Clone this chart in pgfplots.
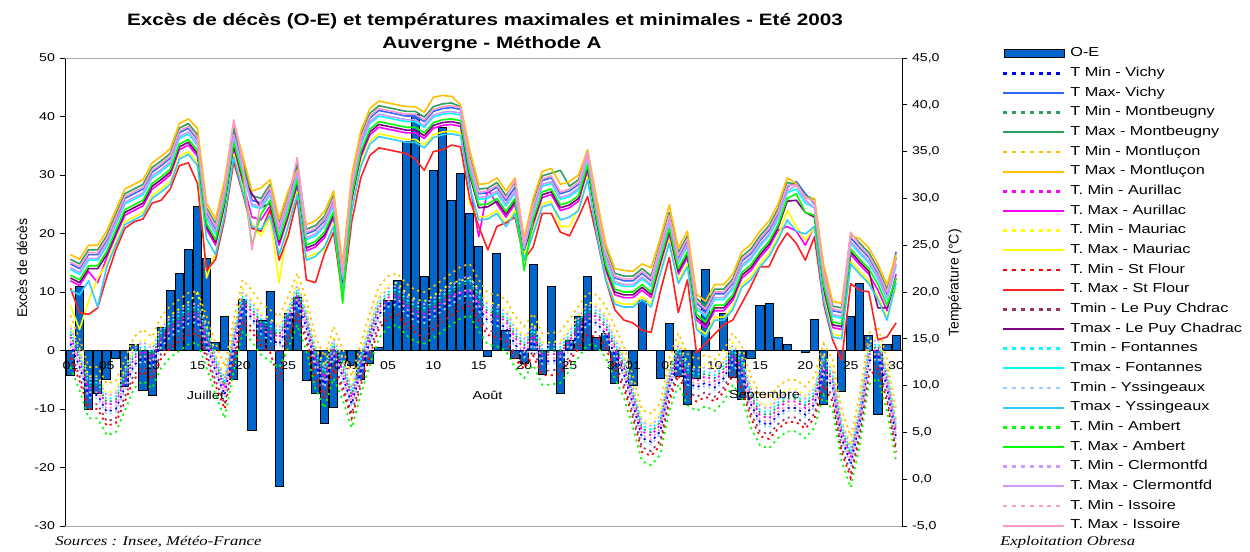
\documentclass[border=0pt]{standalone}
\usepackage{pgfplots}
\pgfplotsset{compat=1.18}
\usepackage{pgfplotstable}
\usepackage{fontspec}
\setmainfont{Liberation Sans}[FakeStretch=1.25]
\newfontfamily\plainsans{Liberation Sans}
\newfontfamily\srcfont{Liberation Serif}[FakeStretch=1.25]

\definecolor{oecol}{HTML}{0066CC}
\definecolor{vimin}{HTML}{0000FF}
\definecolor{vimax}{HTML}{3366FF}
\definecolor{mbcol}{HTML}{2E9E5E}
\definecolor{mlcol}{HTML}{FFC000}
\definecolor{aucol}{HTML}{FF00FF}
\definecolor{macol}{HTML}{FFFF00}
\definecolor{sfmin}{HTML}{FF0000}
\definecolor{sfmax}{HTML}{FF2020}
\definecolor{lpmin}{HTML}{993366}
\definecolor{lpmax}{HTML}{800080}
\definecolor{focol}{HTML}{00FFFF}
\definecolor{ysmin}{HTML}{99CCFF}
\definecolor{ysmax}{HTML}{33CCFF}
\definecolor{amcol}{HTML}{00FF00}
\definecolor{clcol}{HTML}{CC99FF}
\definecolor{iscol}{HTML}{FF99CC}

\pgfplotsset{
  tmin/.style={line width=1.3pt, dash pattern=on 1.6pt off 3pt, no markers,
    legend image code/.code={\draw[##1, line width=1.8pt, dash pattern=on 3pt off 3.6pt] (0pt,0pt) -- (45.75pt,0pt);}},
  tmax/.style={line width=1.2pt, solid, no markers, line join=round,
    legend image code/.code={\draw[##1, line width=1.5pt] (0pt,0pt) -- (45.75pt,0pt);}},
}

\pgfplotstableread{
d oe vin vix mbn mbx mln mlx aun aux man mzx sfn sfx lpn lpx fon fox ysn ysx amn amx cln clx isn isx
0 -4.3 14.5 23.0 15.5 23.5 17.5 24.0 15.2 21.2 16.5 18.6 13.0 20.4 13.5 21.5 15.8 22.4 14.2 20.2 12.0 21.8 16.2 22.6 14.8 23.2
1 11.0 12.0 22.5 13.0 23.0 15.0 23.5 12.7 20.7 14.0 16.0 10.5 17.8 11.0 21.0 13.3 21.9 11.7 19.7 9.5 21.3 13.7 22.1 12.3 22.7
2 -10.0 9.0 24.0 10.0 24.5 12.0 25.0 9.7 22.2 11.0 19.0 7.5 17.6 8.0 22.5 10.3 23.4 8.7 21.2 6.5 22.8 10.7 23.6 9.3 24.2
3 -7.3 9.0 24.0 10.0 24.5 12.0 25.0 9.7 21.0 11.0 21.5 7.5 18.3 8.0 22.5 10.3 23.4 8.7 18.4 6.5 22.8 10.7 23.6 9.3 24.2
4 -5.0 7.2 25.5 8.2 26.0 10.2 26.5 7.9 23.7 9.2 23.0 5.7 21.6 6.2 24.0 8.5 24.9 6.9 22.7 4.7 24.3 8.9 25.1 7.5 25.7
5 -1.3 7.5 27.8 8.5 28.3 10.5 28.8 8.2 26.0 9.5 25.3 6.0 24.5 6.5 26.3 8.8 27.2 7.2 25.0 5.0 26.6 9.2 27.4 7.8 28.0
6 -6.2 9.8 30.0 10.8 30.5 12.8 31.0 10.5 28.2 11.8 27.5 8.3 26.8 8.8 28.5 11.1 29.4 9.5 27.2 7.3 28.8 11.5 29.6 10.1 30.2
7 1.0 12.2 30.5 13.2 31.0 15.2 31.5 12.9 28.7 14.2 28.0 10.7 27.5 11.2 29.0 13.5 29.9 11.9 27.7 9.7 29.3 13.9 30.1 12.5 30.7
8 -6.8 13.0 31.0 14.0 31.5 16.0 32.0 13.7 29.2 15.0 28.5 11.5 27.8 12.0 29.5 14.3 30.4 12.7 28.2 10.5 29.8 14.7 30.6 13.3 31.2
9 -7.7 12.2 32.8 13.2 33.3 15.2 33.8 12.9 31.0 14.2 30.3 10.7 29.5 11.2 31.3 13.5 32.2 11.9 30.0 9.7 31.6 13.9 32.4 12.5 33.0
10 4.0 14.4 33.5 15.4 34.0 17.4 34.5 15.1 31.7 16.4 31.0 12.9 29.8 13.4 32.0 15.7 32.9 14.1 30.7 11.9 32.3 16.1 33.1 14.7 33.7
11 10.3 15.5 34.3 16.5 34.8 18.5 35.3 16.2 32.5 17.5 31.8 14.0 31.0 14.5 32.8 16.8 33.7 15.2 31.5 13.0 33.1 17.2 33.9 15.8 34.5
12 13.1 16.2 37.0 17.2 37.5 19.2 38.0 16.9 35.2 18.2 34.5 14.7 33.5 15.2 35.5 17.5 36.4 15.9 34.2 13.7 35.8 17.9 36.6 16.5 37.2
13 17.3 16.9 37.5 17.9 38.0 19.9 38.5 17.6 35.7 18.9 35.0 15.4 33.8 15.9 36.0 18.2 36.9 16.6 34.7 14.4 36.3 18.6 37.1 17.2 37.7
14 24.6 17.1 36.3 18.1 36.8 20.1 37.5 17.8 34.5 19.9 33.8 15.6 31.6 16.1 34.8 18.4 35.7 16.8 33.5 14.6 35.1 18.8 35.9 17.4 36.5
15 15.8 14.4 28.5 15.4 29.0 17.4 29.5 15.1 26.7 16.4 21.5 12.9 22.3 13.4 27.0 15.7 27.9 14.1 25.7 11.9 27.3 16.1 28.1 14.7 28.7
16 1.4 11.5 26.8 12.5 27.3 14.5 27.8 12.2 25.0 13.5 24.3 10.0 23.5 10.5 25.3 12.8 26.2 11.2 24.0 9.0 25.6 13.2 26.4 11.8 27.0
17 5.9 9.0 31.0 10.0 31.5 12.0 32.0 9.7 29.2 11.0 28.5 7.5 27.8 8.0 29.5 10.3 30.4 8.7 28.2 6.5 29.8 10.7 30.6 9.3 31.2
18 -5.0 14.1 37.2 15.1 37.7 17.1 38.2 14.8 35.4 16.1 34.7 12.6 33.9 13.1 35.7 15.4 36.6 13.8 34.4 11.6 36.0 15.8 36.8 14.4 38.4
19 8.7 18.3 33.5 19.3 34.0 21.3 34.5 19.0 31.7 20.3 31.0 16.8 30.5 17.3 32.0 19.6 32.9 18.0 30.7 15.8 32.3 20.0 33.1 18.6 33.7
20 -13.6 17.2 29.8 18.2 30.3 20.2 30.8 17.9 28.0 19.2 27.3 15.7 26.8 16.2 30.5 18.5 29.2 16.9 27.0 14.7 25.0 18.9 29.4 17.5 24.5
21 5.1 15.8 29.5 16.8 30.0 18.8 31.1 16.5 27.7 17.8 26.0 14.3 26.5 14.8 29.0 17.1 28.9 15.5 26.7 13.3 28.3 17.5 29.1 16.1 29.7
22 10.1 15.1 31.0 16.1 31.5 18.1 32.0 15.8 29.2 17.1 28.0 13.6 28.8 14.1 29.5 16.4 30.4 14.8 28.2 12.6 29.8 16.8 30.6 15.4 31.2
23 -23.3 14.4 26.8 15.4 27.3 17.4 27.8 15.1 25.0 16.4 21.0 10.5 23.4 13.4 25.3 15.7 26.2 14.1 24.0 11.9 25.6 16.1 26.4 14.7 27.0
24 6.4 16.5 29.8 17.5 30.3 19.5 30.8 17.2 28.0 18.5 27.3 15.0 26.0 15.5 28.3 17.8 29.2 16.2 27.0 14.0 28.6 18.2 29.4 16.8 30.0
25 9.1 19.0 33.2 20.0 33.7 22.0 33.0 19.7 31.4 21.0 30.7 17.5 30.0 18.0 31.7 20.3 32.6 18.7 30.4 16.5 32.0 20.7 32.8 19.3 34.4
26 -5.1 16.2 26.2 17.2 26.7 19.2 27.2 16.9 24.4 18.2 23.7 14.7 21.3 15.2 24.7 17.5 25.6 15.9 23.4 13.7 25.0 17.9 25.8 16.5 26.4
27 -7.3 12.2 26.6 13.2 27.1 15.2 27.6 12.9 24.8 14.2 24.1 10.7 21.0 11.2 25.1 13.5 26.0 11.9 23.8 9.7 25.4 13.9 26.2 12.5 26.8
28 -12.4 10.1 27.6 11.1 28.1 13.1 28.6 10.8 25.8 12.1 24.5 8.6 24.1 9.1 26.1 11.4 27.0 9.8 24.8 7.6 26.4 11.8 27.2 10.4 27.8
29 -9.8 13.3 29.8 14.3 30.3 16.3 30.8 14.0 28.0 15.3 27.3 11.8 26.4 12.3 28.3 14.6 29.2 13.0 27.0 10.8 28.6 15.0 29.4 13.6 30.0
30 -2.0 11.0 22.0 12.0 22.5 14.0 23.0 11.7 20.2 13.0 19.5 9.5 19.5 10.0 20.5 12.3 21.4 10.7 20.0 8.5 18.8 12.7 21.6 11.3 22.2
31 -2.6 8.0 31.5 9.0 32.0 11.0 32.5 8.7 29.7 10.0 29.0 6.5 27.5 7.0 30.0 9.3 30.9 7.7 28.7 5.5 30.3 9.7 31.1 8.3 31.7
32 -5.0 11.5 36.2 12.5 36.7 14.5 37.2 12.2 34.4 13.5 33.7 10.0 32.2 10.5 34.7 12.8 35.6 11.2 33.4 9.0 35.0 13.2 35.8 11.8 36.4
33 -2.2 14.7 38.6 15.7 39.1 17.7 39.6 15.4 36.8 16.7 36.1 13.2 34.6 13.7 37.1 16.0 38.0 14.4 35.8 12.2 37.4 16.4 38.2 15.0 38.8
34 0.6 17.6 39.4 18.6 39.9 20.6 40.4 18.3 37.6 19.6 36.9 16.1 35.4 16.6 37.9 18.9 38.8 17.3 36.6 15.1 38.2 19.3 39.0 17.9 39.6
35 8.5 18.7 39.2 19.7 39.7 21.7 40.2 19.4 37.4 20.7 36.7 17.2 35.2 17.7 37.7 20.0 38.6 18.4 36.4 16.2 38.0 20.4 38.8 19.0 39.4
36 12.0 19.0 39.0 20.0 39.5 22.0 40.0 19.7 37.2 21.0 36.5 17.5 35.0 18.0 37.5 20.3 38.4 18.7 36.2 16.5 37.8 20.7 38.6 19.3 39.2
37 35.8 17.9 38.8 18.9 39.3 20.9 39.8 18.6 37.0 19.9 36.3 16.4 34.8 16.9 37.3 19.2 38.2 17.6 36.0 15.4 37.6 19.6 38.4 18.2 39.0
38 40.3 17.2 38.8 18.2 39.3 20.2 39.8 17.9 37.0 19.2 36.3 15.7 34.2 16.2 37.3 18.5 38.2 16.9 36.0 14.7 37.6 18.9 38.4 17.5 39.0
39 12.6 17.0 38.2 18.0 38.7 20.0 39.2 17.7 36.4 19.0 35.7 15.0 33.0 16.0 36.7 18.3 37.6 16.7 35.4 14.5 37.0 18.7 37.8 17.3 38.4
40 30.8 17.6 39.3 18.6 39.8 20.6 40.8 18.3 37.5 19.6 36.8 16.1 35.0 16.6 37.8 18.9 38.7 17.3 36.5 15.1 38.1 19.3 38.9 17.9 39.5
41 38.2 18.3 39.6 19.3 40.1 21.3 41.0 19.0 37.8 20.3 37.1 16.8 35.2 17.3 38.1 19.6 39.0 18.0 36.8 15.8 38.4 20.0 39.2 18.6 39.8
42 25.7 19.0 39.7 20.0 40.2 22.0 40.9 19.7 37.9 21.0 37.2 17.5 35.7 18.0 38.2 20.3 39.1 18.7 36.9 16.5 38.5 20.7 39.3 19.3 39.9
43 30.2 19.7 39.5 20.7 39.8 22.7 40.0 19.9 37.7 21.2 37.0 18.2 35.5 18.7 38.0 21.0 38.9 19.4 36.7 17.2 38.3 21.4 39.1 20.0 39.7
44 23.5 20.0 34.0 21.0 34.5 23.0 35.2 20.2 31.5 21.5 29.5 18.5 30.0 19.0 32.5 21.3 33.4 19.7 31.2 17.5 32.8 21.7 33.6 20.3 34.2
45 17.8 18.3 30.5 19.3 31.0 21.3 31.5 19.0 25.9 20.3 28.0 16.8 27.0 17.3 29.0 19.6 29.9 18.0 27.7 15.8 29.3 20.0 30.1 18.6 30.7
46 -1.1 16.9 30.6 17.9 31.1 19.9 31.6 17.6 31.0 18.9 28.1 15.4 24.5 15.9 29.1 18.2 30.0 16.6 27.8 14.4 29.4 18.6 30.2 17.2 30.8
47 16.6 16.7 31.2 17.7 31.7 19.7 32.2 17.4 29.4 18.7 28.7 15.2 27.0 15.7 29.7 18.0 30.6 16.4 28.4 14.2 30.0 18.4 30.8 17.0 31.4
48 3.5 16.2 29.8 17.2 30.3 19.2 30.8 16.9 28.0 18.2 27.3 14.7 27.4 15.2 28.3 17.5 29.2 15.9 27.0 13.7 28.6 17.9 29.4 16.5 30.0
49 -1.3 14.4 31.2 15.4 31.7 17.4 32.2 15.1 29.4 16.4 28.7 12.9 28.0 13.4 29.7 15.7 30.6 14.1 28.4 11.9 30.0 16.1 30.8 14.7 32.0
50 -2.2 13.3 25.2 14.3 25.5 16.3 25.7 14.0 23.4 15.3 24.0 11.8 23.5 12.3 24.5 14.6 24.6 13.0 23.5 10.8 22.3 15.0 24.8 13.6 25.2
51 14.7 14.7 29.0 15.7 29.5 17.7 30.0 15.4 27.2 16.7 26.5 13.2 24.8 13.7 27.5 16.0 28.4 14.4 26.2 12.2 27.8 16.4 28.6 15.0 29.2
52 -4.1 12.6 31.9 13.6 32.4 15.6 32.9 13.3 30.1 14.6 29.4 11.1 28.4 11.6 30.4 13.9 31.3 12.3 29.1 10.1 30.7 14.3 31.5 12.9 32.1
53 11.0 12.6 32.2 13.6 32.7 15.6 33.2 13.3 30.4 14.6 29.7 11.1 28.4 11.6 30.7 13.9 31.6 12.3 29.4 10.1 31.0 14.3 31.8 12.9 32.4
54 -7.4 12.8 30.5 13.8 33.0 15.8 31.5 13.5 28.7 14.8 27.0 11.3 26.4 11.8 29.0 14.1 29.9 12.5 27.7 10.3 29.3 14.5 30.1 13.1 30.7
55 1.8 14.1 30.8 15.1 31.3 17.1 31.8 14.8 29.0 16.1 27.0 12.6 26.0 13.1 29.3 15.4 30.2 13.8 28.0 11.6 29.6 15.8 30.4 14.4 31.0
56 5.9 15.5 31.5 16.5 32.0 18.5 32.5 16.2 29.7 17.5 29.0 14.0 28.0 14.5 30.0 16.8 30.9 15.2 28.7 13.0 30.3 17.2 31.1 15.8 31.7
57 12.6 16.9 34.8 17.9 35.1 19.9 35.2 17.6 33.0 18.9 32.3 15.4 30.2 15.9 33.3 18.2 34.2 16.6 32.0 14.4 33.6 18.6 34.4 17.2 35.0
58 2.2 16.7 29.0 17.7 29.5 19.7 30.0 17.4 27.2 18.7 26.5 15.2 25.9 15.7 27.5 18.0 28.4 16.4 26.2 14.2 27.8 18.4 28.6 17.0 29.2
59 2.9 15.5 24.1 16.5 24.6 18.5 25.1 16.2 22.3 17.5 21.6 14.0 21.3 14.5 22.6 16.8 23.5 15.2 21.3 13.0 22.9 17.2 23.7 15.8 24.3
60 -5.7 13.3 21.5 14.3 22.0 16.3 22.5 14.0 19.7 15.3 19.0 11.8 18.1 12.3 20.0 14.6 20.9 13.0 18.7 10.8 20.3 15.0 21.1 13.6 21.7
61 0 11.2 21.2 12.2 21.7 14.2 22.3 11.9 19.4 13.2 18.7 9.7 17.0 10.2 19.7 12.5 20.6 10.9 18.4 8.7 20.0 12.9 20.8 11.5 21.4
62 -6.0 8.0 21.2 9.0 21.7 11.0 22.2 8.7 19.4 10.0 18.7 6.5 16.7 7.0 19.7 9.3 20.6 7.7 18.4 5.5 20.0 9.7 20.8 8.3 21.4
63 8.5 4.4 22.0 5.4 22.5 7.4 23.0 5.1 20.2 6.4 19.5 2.9 15.9 3.4 20.5 5.7 21.4 4.1 19.2 1.9 20.8 6.1 21.6 4.7 22.2
64 0 4.0 21.2 5.0 21.7 7.0 22.6 4.7 19.4 6.0 18.7 2.5 15.7 3.0 19.7 5.3 20.6 3.7 18.4 1.5 20.0 5.7 20.8 4.3 21.4
65 -4.7 5.1 24.7 6.1 25.2 8.1 25.7 5.8 22.9 7.1 22.2 3.6 20.0 4.1 23.2 6.4 24.1 4.8 21.9 2.6 23.5 6.8 24.3 5.4 24.9
66 4.6 9.8 28.0 10.8 28.5 12.8 29.3 10.5 26.2 11.8 25.5 8.3 23.7 8.8 26.5 11.1 27.4 9.5 25.2 7.3 26.8 11.5 27.6 10.1 28.2
67 -4.5 12.6 23.7 13.6 24.2 15.6 24.7 13.3 21.9 14.6 21.2 11.1 17.8 11.6 22.2 13.9 23.1 12.3 20.9 10.1 22.5 14.3 23.3 12.9 23.9
68 -9.2 10.4 25.5 11.4 26.0 13.4 26.5 11.1 23.7 12.4 23.0 8.9 21.3 9.4 24.0 11.7 24.9 10.1 22.7 7.9 24.3 12.1 25.1 10.7 25.7
69 -4.7 9.8 18.8 10.8 19.3 12.8 19.8 10.5 17.0 11.8 16.3 8.3 13.5 8.8 17.3 11.1 18.2 9.5 16.0 7.3 17.6 11.5 18.4 10.1 19.0
70 13.8 10.3 18.0 11.3 18.5 13.3 19.0 11.0 16.2 12.3 15.5 8.8 14.5 9.3 16.5 11.6 17.4 10.0 15.2 7.8 16.8 12.0 17.6 10.6 18.2
71 0 9.8 19.8 10.8 20.3 12.8 20.8 10.5 18.0 11.8 17.3 8.3 15.5 8.8 18.3 11.1 19.2 9.5 17.0 7.3 18.6 11.5 19.4 10.1 20.0
72 6.3 10.8 19.8 11.8 20.3 13.8 20.8 11.5 18.0 12.8 17.3 9.3 16.5 9.8 18.3 12.1 19.2 10.5 17.0 8.3 18.6 12.5 19.4 11.1 20.0
73 -4.6 12.6 20.9 13.6 21.4 15.6 21.9 13.3 19.1 14.6 18.4 11.1 17.0 11.6 19.4 13.9 20.3 12.3 18.1 10.1 19.7 14.3 20.5 12.9 21.1
74 -8.4 11.2 23.3 12.2 23.8 14.2 24.3 11.9 21.5 13.2 20.8 9.7 18.8 10.2 21.8 12.5 22.7 10.9 20.5 8.7 22.1 12.9 22.9 11.5 23.5
75 -1.3 8.0 24.1 9.0 24.6 11.0 25.1 8.7 22.3 10.0 21.6 6.5 20.6 7.0 22.6 9.3 23.5 7.7 21.3 5.5 22.9 9.7 23.7 8.3 24.3
76 7.7 6.1 25.5 7.1 26.0 9.1 26.5 6.8 23.7 8.1 23.0 4.6 22.7 5.1 24.0 7.4 24.9 5.8 22.7 3.6 24.3 7.8 25.1 6.4 25.7
77 8.0 5.8 26.6 6.8 27.1 8.8 27.6 6.5 24.8 7.8 24.1 4.3 22.7 4.8 25.1 7.1 26.0 5.5 23.8 3.3 25.4 7.5 26.2 6.1 26.8
78 2.2 6.9 28.4 7.9 28.9 9.9 29.4 7.6 26.6 8.9 25.9 5.4 24.8 5.9 26.9 8.2 27.8 6.6 25.6 4.4 27.2 8.6 28.0 7.2 28.6
79 1.0 7.6 31.2 8.6 31.7 10.6 32.2 8.3 27.0 9.6 28.7 6.1 26.3 6.6 29.7 8.9 30.6 7.3 27.7 5.1 30.0 9.3 30.8 7.9 31.4
80 0 7.6 31.8 8.6 31.5 10.6 31.6 8.3 26.5 9.6 27.0 6.1 25.2 6.6 29.8 8.9 31.0 7.3 26.5 5.1 30.5 9.3 31.4 7.9 31.4
81 -0.3 6.9 30.5 7.9 30.3 9.9 30.0 7.6 25.0 8.9 25.5 5.4 23.4 5.9 28.5 8.2 29.5 6.6 26.2 4.4 28.5 8.6 29.8 7.2 30.2
82 5.3 8.0 29.4 9.0 29.9 11.0 30.0 8.7 27.0 10.0 26.9 6.5 25.9 7.0 28.0 9.3 29.0 7.7 27.0 5.5 28.2 9.7 29.0 8.3 29.6
83 -9.3 11.5 22.0 12.5 22.5 14.5 23.0 12.2 20.2 13.5 19.5 10.0 18.8 10.5 20.5 12.8 21.4 11.2 19.2 9.0 20.8 13.2 21.6 11.8 22.2
84 0 9.8 18.0 10.8 18.5 12.8 19.0 10.5 16.2 11.8 15.5 8.3 14.9 8.8 16.5 11.1 17.4 9.5 15.2 7.3 16.8 11.5 17.6 10.1 18.2
85 -7.0 4.4 17.8 5.4 18.3 7.4 18.8 5.1 16.0 6.4 15.3 2.9 12.7 3.4 16.3 5.7 17.2 4.1 15.0 1.9 16.6 6.1 17.4 4.7 18.0
86 5.8 1.6 25.8 2.6 26.3 4.6 26.0 2.3 24.0 3.6 23.3 0.1 20.9 0.6 24.3 2.9 25.2 1.3 23.0 -0.9 24.6 3.3 25.4 1.9 26.4
87 11.5 6.1 24.7 7.1 25.2 9.1 25.7 6.8 22.9 8.1 22.2 4.6 20.2 5.1 23.2 7.4 24.1 5.8 21.9 3.6 23.5 7.8 24.3 6.4 24.9
88 2.6 12.6 23.7 13.6 24.2 15.6 24.7 13.3 21.9 14.6 21.2 11.1 20.0 11.6 22.2 13.9 23.1 12.3 20.9 10.1 22.5 14.3 23.3 12.9 23.9
89 -10.9 13.3 22.0 14.3 22.5 16.3 23.0 14.0 20.2 15.3 19.5 11.8 14.9 12.3 18.3 14.6 21.4 13.0 19.2 10.8 20.8 15.0 21.6 13.6 22.2
90 1.0 9.8 19.8 10.8 20.3 12.8 20.8 10.5 18.0 11.8 17.3 8.3 15.2 8.8 18.3 11.1 19.2 9.5 17.0 7.3 18.6 11.5 19.4 10.1 20.0
91 2.6 4.4 24.3 5.4 23.7 7.4 24.0 5.1 21.9 6.4 20.5 2.9 16.7 3.4 21.5 5.7 22.8 4.1 21.0 1.9 21.5 6.1 23.0 4.7 23.5
}\data

\begin{document}
\begin{tikzpicture}
\path[use as bounding box] (-48.75pt,-18.75pt) rectangle (888.75pt,394.5pt);

\begin{axis}[
  at={(0pt,0pt)}, anchor=south west,
  scale only axis, width=627.75pt, height=351pt,
  xmin=-0.6, xmax=91.65, ymin=-30, ymax=50,
  axis x line*=middle, axis y line*=left,
  axis on top,
  axis line style={black, line width=0.6pt},
  ytick={-30,-20,...,50},
  xtick={0,4,9,14,19,24,29,31,35,40,45,50,55,60,62,66,71,76,81,86,91},
  xticklabels={01,05,10,15,20,25,30,01,05,10,15,20,25,30,01,05,10,15,20,25,30},
  x tick style={draw=none},
  y tick style={black, line width=0.6pt},
  tick align=outside, major tick length=4pt,
  ticklabel style={font=\fontsize{8.5}{10}\selectfont},
  xticklabel style={yshift=-3pt, inner sep=1pt},
  /pgf/number format/assume math mode=true,
  clip=false,
]
\addplot[ybar, bar width=0.9, fill=oecol, draw=black, line width=0.7pt] table[x=d, y=oe]{\data};
\end{axis}

\draw[gray!70, line width=0.6pt] (0pt,351pt) -- (627.75pt,351pt);
\draw[gray!70, line width=0.6pt] (0pt,0pt) -- (627.75pt,0pt);

\begin{axis}[
  at={(0pt,0pt)}, anchor=south west,
  scale only axis, width=627.75pt, height=351pt,
  xmin=-0.6, xmax=91.65, ymin=-5, ymax=45,
  axis x line=none, axis y line*=right,
  axis line style={black, line width=0.6pt},
  ytick={-5,0,...,45},
  y tick style={black, line width=0.6pt},
  tick align=outside, major tick length=4pt,
  ticklabel style={font=\fontsize{8.5}{10}\selectfont},
  yticklabel style={/pgf/number format/.cd, fixed, fixed zerofill, precision=1, use comma},
  /pgf/number format/assume math mode=true,
  legend style={at={(1.1195,1.0233)}, anchor=north west, draw=none, fill=none,
    inner sep=0pt, font=\fontsize{9.75}{11}\selectfont, row sep=5.35pt, column sep=3.5pt,
    nodes={inner sep=0pt, text height=7.2pt, text depth=2.2pt}},
  legend cell align=left,
]
\addlegendimage{legend image code/.code={\draw[fill=oecol, draw=black, line width=0.9pt] (0.5pt,-3pt) rectangle (45.5pt,3pt);}}
\addlegendentry{O-E}
\addplot[tmin, vimin] table[x=d, y=vin]{\data}; \addlegendentry{T Min - Vichy}
\addplot[tmax, vimax] table[x=d, y=vix]{\data}; \addlegendentry{T Max- Vichy}
\addplot[tmin, mbcol] table[x=d, y=mbn]{\data}; \addlegendentry{T Min - Montbeugny}
\addplot[tmax, mbcol] table[x=d, y=mbx]{\data}; \addlegendentry{T Max - Montbeugny}
\addplot[tmin, mlcol] table[x=d, y=mln]{\data}; \addlegendentry{T Min - Montluçon}
\addplot[tmax, mlcol] table[x=d, y=mlx]{\data}; \addlegendentry{T Max - Montluçon}
\addplot[tmin, aucol] table[x=d, y=aun]{\data}; \addlegendentry{T. Min - Aurillac}
\addplot[tmax, aucol] table[x=d, y=aux]{\data}; \addlegendentry{T. Max - Aurillac}
\addplot[tmin, macol] table[x=d, y=man]{\data}; \addlegendentry{T. Min - Mauriac}
\addplot[tmax, macol] table[x=d, y=mzx]{\data}; \addlegendentry{T. Max - Mauriac}
\addplot[tmin, sfmin] table[x=d, y=sfn]{\data}; \addlegendentry{T. Min - St Flour}
\addplot[tmax, sfmax] table[x=d, y=sfx]{\data}; \addlegendentry{T. Max - St Flour}
\addplot[tmin, lpmin] table[x=d, y=lpn]{\data}; \addlegendentry{Tmin - Le Puy Chdrac}
\addplot[tmax, lpmax] table[x=d, y=lpx]{\data}; \addlegendentry{Tmax - Le Puy Chadrac}
\addplot[tmin, focol] table[x=d, y=fon]{\data}; \addlegendentry{Tmin - Fontannes}
\addplot[tmax, focol] table[x=d, y=fox]{\data}; \addlegendentry{Tmax - Fontannes}
\addplot[tmin, ysmin] table[x=d, y=ysn]{\data}; \addlegendentry{Tmin - Yssingeaux}
\addplot[tmax, ysmax] table[x=d, y=ysx]{\data}; \addlegendentry{Tmax - Yssingeaux}
\addplot[tmin, amcol] table[x=d, y=amn]{\data}; \addlegendentry{T. Min - Ambert}
\addplot[tmax, amcol] table[x=d, y=amx]{\data}; \addlegendentry{T. Max - Ambert}
\addplot[tmin, clcol] table[x=d, y=cln]{\data}; \addlegendentry{T. Min - Clermontfd}
\addplot[tmax, clcol] table[x=d, y=clx]{\data}; \addlegendentry{T. Max - Clermontfd}
\addplot[tmin, iscol] table[x=d, y=isn]{\data}; \addlegendentry{T. Min - Issoire}
\addplot[tmax, iscol] table[x=d, y=isx]{\data}; \addlegendentry{T. Max - Issoire}
\end{axis}

\node[font=\bfseries\fontsize{12.4}{14}\selectfont] at (315pt,378.5pt) {Excès de décès (O-E) et températures maximales et minimales - Eté 2003};
\node[font=\bfseries\fontsize{12.4}{14}\selectfont] at (320.25pt,361pt) {Auvergne - Méthode A};
\node[rotate=90, font=\plainsans\fontsize{10.5}{12}\selectfont] at (-32.25pt,193.5pt) {Excès de décès};
\node[rotate=90, font=\plainsans\fontsize{10.5}{12}\selectfont] at (667.5pt,182.25pt) {Température (°C)};
\node[font=\fontsize{8.7}{10}\selectfont] at (105.4pt,98.25pt) {Juillet};
\node[font=\fontsize{8.7}{10}\selectfont] at (316.9pt,98.25pt) {Août};
\node[font=\fontsize{8.7}{10}\selectfont] at (524.6pt,98.25pt) {Septembre};
\node[anchor=west, inner sep=0pt, font=\srcfont\itshape\fontsize{10}{12}\selectfont] at (-7.5pt,-12pt) {Sources : Insee, Météo-France};
\node[anchor=west, inner sep=0pt, font=\srcfont\itshape\fontsize{10}{12}\selectfont] at (701.25pt,-12pt) {Exploitation Obresa};
\end{tikzpicture}
\end{document}
